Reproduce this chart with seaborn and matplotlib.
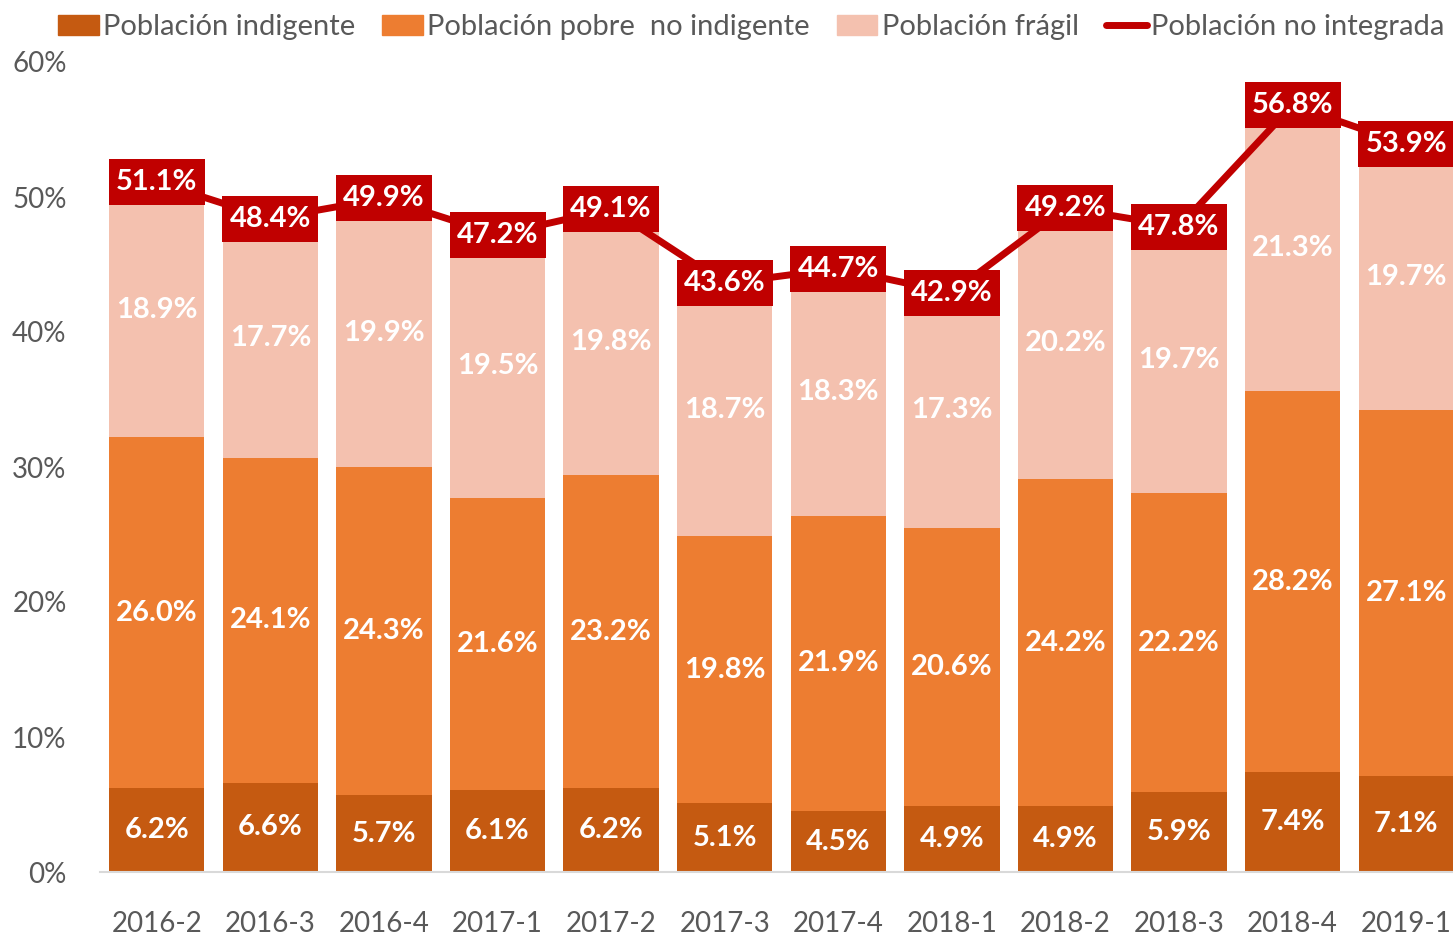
import numpy as np
import pandas as pd
import matplotlib
matplotlib.use("Agg")
import matplotlib.pyplot as plt
import seaborn as sns
from matplotlib.patches import Patch
from matplotlib.lines import Line2D
from matplotlib.path import Path

periods = ["2016-2", "2016-3", "2016-4", "2017-1", "2017-2", "2017-3",
           "2017-4", "2018-1", "2018-2", "2018-3", "2018-4", "2019-1"]
indigente = [6.2, 6.6, 5.7, 6.1, 6.2, 5.1, 4.5, 4.9, 4.9, 5.9, 7.4, 7.1]
pobre_no_indigente = [26.0, 24.1, 24.3, 21.6, 23.2, 19.8, 21.9, 20.6, 24.2, 22.2, 28.2, 27.1]
fragil = [18.9, 17.7, 19.9, 19.5, 19.8, 18.7, 18.3, 17.3, 20.2, 19.7, 21.3, 19.7]
no_integrada = [51.1, 48.4, 49.9, 47.2, 49.1, 43.6, 44.7, 42.9, 49.2, 47.8, 56.8, 53.9]
yticks = [0, 10, 20, 30, 40, 50, 60]

c_ind = "#C55A11"
c_pob = "#ED7D31"
c_fra = "#F4C1AF"
c_line = "#C00000"
grey = "#595959"

sns.set_theme(style="white")
plt.rcParams["font.family"] = ["Lato", "DejaVu Sans"]

df = pd.DataFrame({"periodo": periods, "ind": indigente, "pob": pobre_no_indigente,
                   "fra": fragil, "tot": no_integrada})
df["lvl2"] = df["ind"] + df["pob"]
df["lvl3"] = df["lvl2"] + df["fra"]
df["pos"] = np.arange(len(periods))

fig = plt.figure(figsize=(14.53, 9.38), dpi=100)
W, H = 1453, 938
ax = fig.add_axes([100 / W, 1 - 872 / H, (1463 - 100) / W, (872 - 62) / H])

bw = 0.84
for col, c in [("lvl3", c_fra), ("lvl2", c_pob), ("ind", c_ind)]:
    sns.barplot(data=df, x="periodo", y=col, color=c, width=bw, saturation=1,
                linewidth=0, edgecolor=c, ax=ax, zorder=1)

sns.pointplot(data=df, x="periodo", y="tot", color=c_line, markers="", linestyles="-",
              linewidth=5, ax=ax, zorder=3)

# rectangular label boxes (aspect ~95x46 px)
rect = Path([(-1, -0.484), (1, -0.484), (1, 0.484), (-1, 0.484), (-1, -0.484)],
            [Path.MOVETO, Path.LINETO, Path.LINETO, Path.LINETO, Path.CLOSEPOLY])
box_pt = 95 * 72 / 100
sns.scatterplot(data=df, x="pos", y="tot", marker=rect, s=box_pt ** 2, color=c_line,
                linewidth=0, ax=ax, zorder=4, legend=False)

lab_kw = dict(ha="center", va="center", color="white", fontweight="bold", fontsize=21, zorder=5)
for i in range(len(periods)):
    ax.text(i, indigente[i] / 2, f"{indigente[i]:.1f}%", **lab_kw)
    ax.text(i, indigente[i] + pobre_no_indigente[i] / 2, f"{pobre_no_indigente[i]:.1f}%", **lab_kw)
    lvl2 = indigente[i] + pobre_no_indigente[i]
    ax.text(i, (lvl2 + no_integrada[i]) / 2, f"{fragil[i]:.1f}%", **lab_kw)
    ax.text(i, no_integrada[i], f"{no_integrada[i]:.1f}%", **lab_kw)

ax.set_ylim(0, 60)
ax.set_xlim(-0.5, len(periods) - 0.5)
ax.set_xticks(range(len(periods)))
ax.set_xticklabels(periods)
ax.set_yticks(yticks)
ax.set_yticklabels([f"{v}%" for v in yticks], fontsize=20, color=grey)
ax.tick_params(axis="x", labelsize=20, labelcolor=grey, pad=28, length=0)
ax.tick_params(axis="y", length=0, pad=24)
ax.set_xlabel("")
ax.set_ylabel("")
for s in ["top", "right", "left"]:
    ax.spines[s].set_visible(False)
ax.spines["bottom"].set_color("#D9D9D9")
ax.spines["bottom"].set_linewidth(1.5)
ax.grid(False)

handles = [Patch(color=c_ind), Patch(color=c_pob), Patch(color=c_fra),
           Line2D([0], [0], color=c_line, lw=5, solid_capstyle="round")]
labels = ["Población indigente", "Población pobre  no indigente", "Población frágil", "Población no integrada"]
fig.legend(handles, labels, loc="center", bbox_to_anchor=(751 / W, 1 - 27 / H), ncol=4,
           frameon=False, fontsize=21, labelcolor=grey, handlelength=1.4, handleheight=0.7,
           handletextpad=0.15, columnspacing=0.92, borderpad=0, borderaxespad=0)

fig.savefig("out.png", dpi=100)
